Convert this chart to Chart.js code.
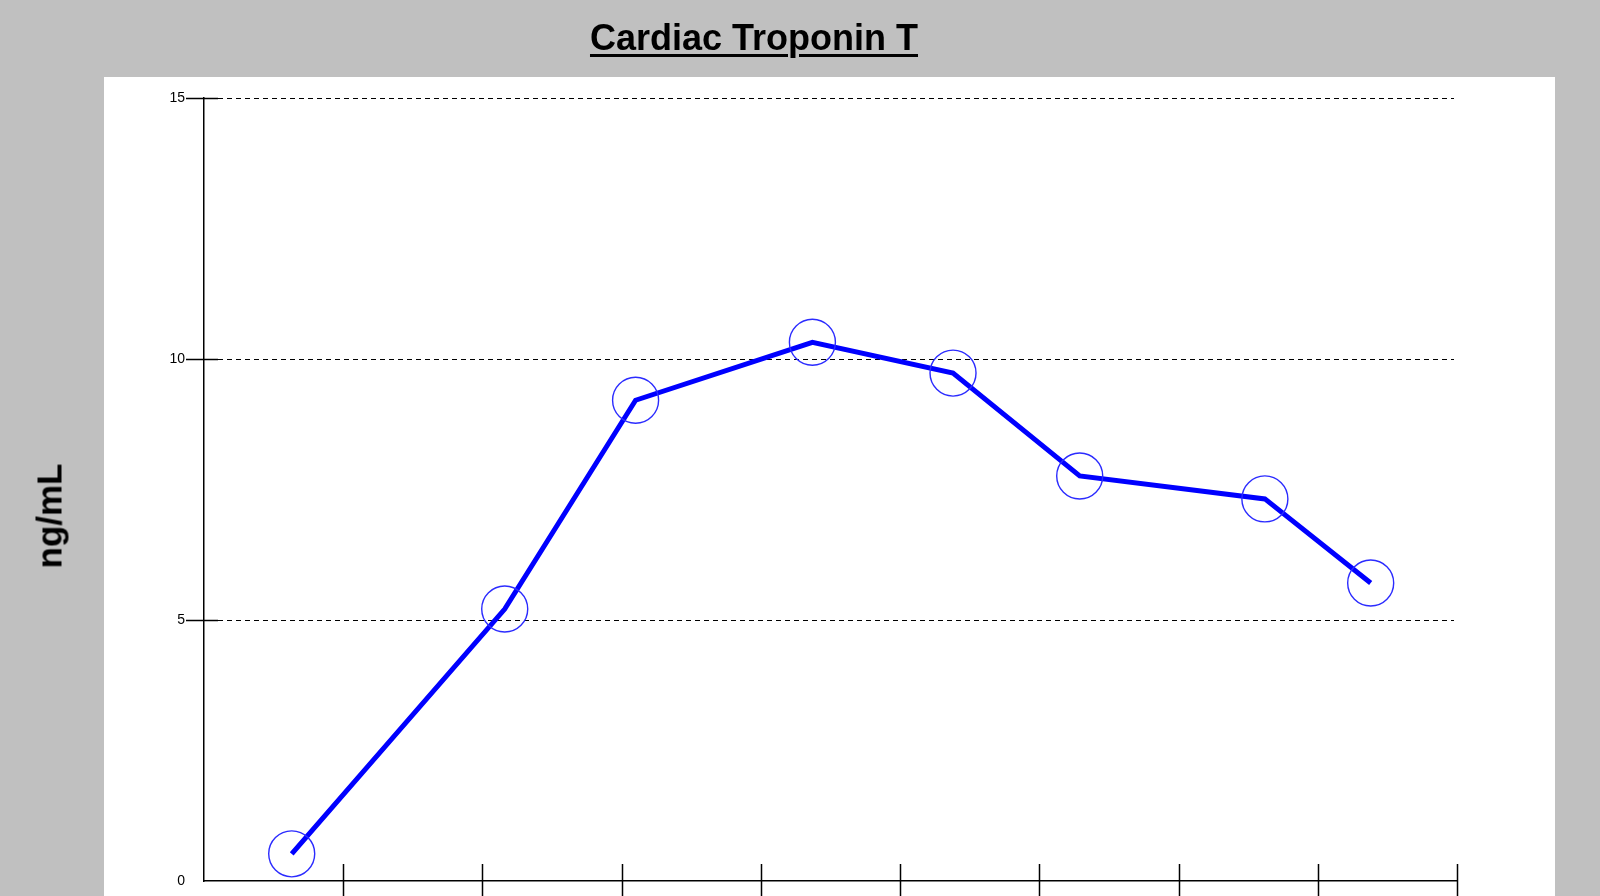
<!DOCTYPE html>
<html>
<head>
<meta charset="utf-8">
<script src="https://cdn.jsdelivr.net/npm/chart.js@4/dist/chart.umd.min.js"></script>
<style>
    html, body {
        margin: 0;
        padding: 0;
        background: #c0c0c0;
        width: 1600px;
        height: 896px;
        overflow: hidden;
        font-family: 'Liberation Sans', Arial, sans-serif;
    }

    #wrap {
        position: relative;
        width: 1600px;
        height: 896px;
    }

    #title {
        position: absolute;
        left: 754px;
        top: 20px;
        transform: translateX(-50%);
        font-size: 36px;
        line-height: 36px;
        font-weight: bold;
        color: #000;
        white-space: nowrap;
        text-decoration: underline;
        text-decoration-thickness: 3px;
        text-underline-offset: 4px;
    }

    #yTitle {
        position: absolute;
        left: 49px;
        top: 516px;
        transform: translate(-50%, -50%) rotate(-90deg);
        font-size: 35px;
        line-height: 35px;
        font-weight: bold;
        color: #000;
        white-space: nowrap;
    }

    canvas {
        position: absolute;
        left: 0;
        top: 0;
    }
</style>
</head>
<body>
<div id="wrap">
    <canvas id="chart" width="1600" height="896"></canvas>
    <div id="title">Cardiac Troponin T</div>
    <div id="yTitle">ng/mL</div>
</div>
<script>
// Sample times, in x-axis tick units
const sampleTimes = [0.63, 2.16, 3.10, 4.37, 5.38, 6.29, 7.62, 8.38]
// Troponin T values, ng/mL
const troponinValues = [0.52, 5.21, 9.21, 10.32, 9.73, 7.76, 7.32, 5.71]
// Axis ranges / ticks
const yTicks = [0, 5, 10, 15]
const xTickCount = 9

const points = sampleTimes.map((t, i) => ({ x: t, y: troponinValues[i] }))

// gray page with the white plot panel behind the chart
const panelPlugin = {
    id: 'panel',
    beforeDraw(chart) {
        const ctx = chart.ctx
        ctx.save()
        ctx.fillStyle = '#c0c0c0'
        ctx.fillRect(0, 0, chart.width, chart.height)
        ctx.fillStyle = '#ffffff'
        ctx.fillRect(104, 77, 1451, chart.height - 77)
        ctx.restore()
    }
}

// dashed grid lines and the tick marks that cross the axes
const tickMarksPlugin = {
    id: 'tickMarks',
    beforeDatasetsDraw(chart) {
        const ctx = chart.ctx
        const area = chart.chartArea
        const yScale = chart.scales.y
        ctx.save()
        ctx.strokeStyle = '#000'
        ctx.lineWidth = 1
        ctx.setLineDash([5, 4])
        ctx.beginPath()
        yScale.ticks.forEach((tick) => {
            if (tick.value > 0) {
                const py = Math.round(yScale.getPixelForValue(tick.value)) + 0.5
                ctx.moveTo(area.left + 14, py)
                ctx.lineTo(area.right - 3, py)
            }
        })
        ctx.stroke()
        ctx.restore()
    },
    afterDraw(chart) {
        const ctx = chart.ctx
        const area = chart.chartArea
        const xScale = chart.scales.x
        const yScale = chart.scales.y
        ctx.save()
        ctx.strokeStyle = '#000'
        ctx.lineWidth = 1.5
        ctx.beginPath()
        xScale.ticks.forEach((tick) => {
            if (tick.value > 0) {
                const px = Math.round(xScale.getPixelForValue(tick.value)) + 0.5
                ctx.moveTo(px, area.bottom - 17)
                ctx.lineTo(px, chart.height)
            }
        })
        yScale.ticks.forEach((tick) => {
            if (tick.value > 0) {
                const py = Math.round(yScale.getPixelForValue(tick.value)) + 0.5
                ctx.moveTo(area.left - 18, py)
                ctx.lineTo(area.left + 14, py)
            }
        })
        ctx.stroke()
        ctx.restore()
    }
}

new Chart(document.getElementById('chart'), {
    type: 'line',
    data: {
        datasets: [{
            data: points,
            borderColor: '#0000ff',
            borderWidth: 5,
            tension: 0,
            fill: false,
            pointRadius: 23,
            pointHoverRadius: 23,
            pointBorderWidth: 1.4,
            pointBorderColor: '#2b2bff',
            pointBackgroundColor: 'rgba(0,0,0,0)'
        }]
    },
    options: {
        responsive: false,
        devicePixelRatio: 1,
        animation: false,
        events: [],
        layout: {
            autoPadding: false,
            padding: { top: 98, right: 143, bottom: 0, left: 0 }
        },
        plugins: {
            legend: { display: false },
            title: { display: false },
            tooltip: { enabled: false }
        },
        scales: {
            x: {
                type: 'linear',
                min: 0,
                max: xTickCount,
                ticks: { stepSize: 1, display: false },
                grid: { display: false },
                border: { display: true, color: '#000', width: 1.5 },
                afterFit: (scale) => {
                    scale.height = 15
                    scale.paddingLeft = 0
                    scale.paddingRight = 0
                }
            },
            y: {
                type: 'linear',
                min: yTicks[0],
                max: yTicks[yTicks.length - 1],
                afterBuildTicks: (scale) => {
                    scale.ticks = yTicks.map((v) => ({ value: v }))
                },
                ticks: {
                    color: '#000',
                    padding: 1,
                    font: { family: 'Liberation Sans', size: 14 }
                },
                grid: {
                    display: true,
                    drawOnChartArea: false,
                    drawTicks: true,
                    tickLength: 18,
                    tickColor: 'rgba(0,0,0,0)'
                },
                border: { display: true, color: '#000', width: 1.5 },
                afterFit: (scale) => {
                    scale.width = 204
                    scale.paddingTop = 0
                    scale.paddingBottom = 0
                }
            }
        }
    },
    plugins: [panelPlugin, tickMarksPlugin]
})
</script>
</body>
</html>
